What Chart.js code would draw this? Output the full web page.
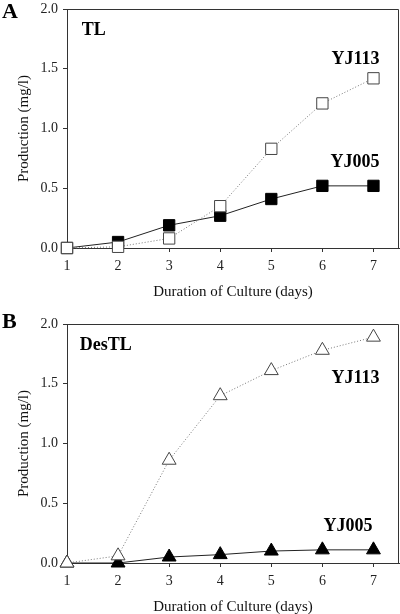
<!DOCTYPE html>
<html>
<head>
<meta charset="utf-8">
<script src="https://cdn.jsdelivr.net/npm/chart.js@4"></script>
<style>
  body { margin: 0; background: #fff; }
  .panel { position: relative; width: 400px; height: 307px; }
</style>
</head>
<body>
<div class="panel"><canvas id="chartA" width="400" height="307"></canvas></div>
<div class="panel"><canvas id="chartB" width="400" height="307"></canvas></div>
<script>
// days of culture
const days = [1, 2, 3, 4, 5, 6, 7];
const yTicks = [0, 0.5, 1.0, 1.5, 2.0];

// panel A: TL production (mg/l)
const tlYJ113 = [0.0, 0.01, 0.08, 0.35, 0.83, 1.21, 1.42];
const tlYJ005 = [0.0, 0.05, 0.19, 0.27, 0.41, 0.52, 0.52];

// panel B: DesTL production (mg/l)
const desYJ113 = [0.0, 0.06, 0.86, 1.40, 1.61, 1.78, 1.89];
const desYJ005 = [0.0, 0.0, 0.05, 0.07, 0.10, 0.11, 0.11];

const FONT = "'Liberation Serif', 'Times New Roman', serif";
const AXIS = '#333';

const pts = (ys) => days.map((d, i) => ({ x: d, y: ys[i] }));

// frame + panel letter + in-plot labels
const decorPlugin = {
  id: 'decor',
  afterDraw(chart, args, opts) {
    const { ctx, chartArea: a, scales } = chart;
    ctx.save();
    ctx.strokeStyle = AXIS;
    ctx.lineWidth = 1;
    ctx.beginPath();
    ctx.moveTo(a.left, a.top + 0.5);
    ctx.lineTo(a.right - 0.5, a.top + 0.5);
    ctx.lineTo(a.right - 0.5, a.bottom);
    ctx.stroke();

    ctx.fillStyle = '#000';
    ctx.textBaseline = 'alphabetic';
    ctx.font = 'bold 22px ' + FONT;
    ctx.textAlign = 'left';
    ctx.fillText(opts.letter, 2, opts.letterY);

    ctx.font = 'bold 18px ' + FONT;
    opts.labels.forEach(l => {
      ctx.textAlign = l.align;
      ctx.fillText(l.text, scales.x.getPixelForValue(l.x), scales.y.getPixelForValue(l.y));
    });
    ctx.restore();
  }
};

function makeChart(id, cfg) {
  new Chart(document.getElementById(id), {
    type: 'line',
    data: {
      datasets: [
        {
          label: 'YJ113',
          data: pts(cfg.open),
          order: 0,
          borderColor: '#777',
          borderWidth: 1,
          borderDash: [1, 2],
          pointStyle: cfg.marker,
          pointRadius: 8,
          pointBackgroundColor: '#fff',
          pointBorderColor: '#444',
          pointBorderWidth: 1,
          clip: false
        },
        {
          label: 'YJ005',
          data: pts(cfg.filled),
          order: 1,
          borderColor: '#222',
          borderWidth: 1,
          pointStyle: cfg.marker,
          pointRadius: 8,
          pointBackgroundColor: '#000',
          pointBorderColor: '#000',
          pointBorderWidth: 1,
          clip: false
        }
      ]
    },
    options: {
      responsive: false,
      animation: false,
      layout: { autoPadding: false, padding: { top: cfg.top, right: 1, left: 0, bottom: 0 } },
      scales: {
        x: {
          type: 'linear',
          min: 1,
          max: 7.5,
          afterBuildTicks: s => { s.ticks = days.map(v => ({ value: v })); },
          afterFit: s => { s.height = cfg.xHeight; s.paddingLeft = 0; s.paddingRight = 0; },
          grid: { drawOnChartArea: false, tickLength: 4, color: AXIS },
          border: { color: AXIS },
          ticks: { color: '#222', padding: 6, font: { family: FONT, size: 14 } },
          title: {
            display: true,
            text: 'Duration of Culture (days)',
            color: '#111',
            font: { family: FONT, size: 15 },
            padding: { top: 0, bottom: cfg.titlePad }
          }
        },
        y: {
          min: 0,
          max: 2,
          afterBuildTicks: s => { s.ticks = yTicks.map(v => ({ value: v })); },
          afterFit: s => { s.width = 67; s.paddingTop = 0; s.paddingBottom = 0; },
          grid: { drawOnChartArea: false, tickLength: 4, color: AXIS },
          border: { color: AXIS },
          ticks: {
            color: '#222',
            padding: 5,
            font: { family: FONT, size: 14 },
            callback: v => v.toFixed(1)
          },
          title: {
            display: true,
            text: 'Production (mg/l)',
            color: '#111',
            font: { family: FONT, size: 15 },
            padding: { top: 15, bottom: 0 }
          }
        }
      },
      plugins: {
        legend: { display: false },
        tooltip: { enabled: false },
        decor: { letter: cfg.letter, letterY: cfg.letterY, labels: cfg.labels }
      }
    },
    plugins: [decorPlugin]
  });
}

makeChart('chartA', {
  open: tlYJ113, filled: tlYJ005, marker: 'rect',
  top: 9, xHeight: 59, titlePad: 6,
  letter: 'A', letterY: 18,
  labels: [
    { text: 'TL', x: 1.29, y: 1.78, align: 'left' },
    { text: 'YJ113', x: 7.12, y: 1.54, align: 'right' },
    { text: 'YJ005', x: 7.12, y: 0.68, align: 'right' }
  ]
});

makeChart('chartB', {
  open: desYJ113, filled: desYJ005, marker: 'triangle',
  top: 17, xHeight: 51, titlePad: -2,
  letter: 'B', letterY: 21,
  labels: [
    { text: 'DesTL', x: 1.25, y: 1.78, align: 'left' },
    { text: 'YJ113', x: 7.12, y: 1.51, align: 'right' },
    { text: 'YJ005', x: 6.98, y: 0.27, align: 'right' }
  ]
});
</script>
</body>
</html>
